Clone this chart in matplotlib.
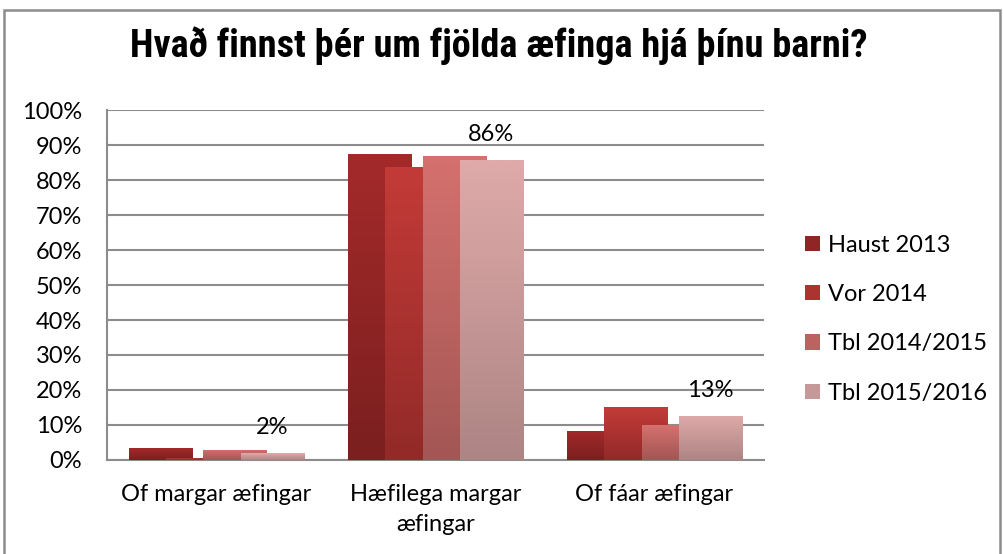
import numpy as np
import matplotlib
matplotlib.use("Agg")
import matplotlib.pyplot as plt
from matplotlib import font_manager as fm
from matplotlib.colors import LinearSegmentedColormap
from matplotlib.patches import Rectangle, Patch

categories = ["Of margar æfingar", "Hæfilega margar\næfingar", "Of fáar æfingar"]
series = ["Haust 2013", "Vor 2014", "Tbl 2014/2015", "Tbl 2015/2016"]
haust_2013 = [3.3, 87.4, 8.3]
vor_2014 = [0.7, 83.7, 15.1]
tbl_2014_2015 = [2.9, 86.9, 10.0]
tbl_2015_2016 = [2.0, 85.6, 12.6]
values = [haust_2013, vor_2014, tbl_2014_2015, tbl_2015_2016]
data_labels = ["2%", "86%", "13%"]
yticks = list(range(0, 101, 10))
ytick_labels = [f"{t}%" for t in yticks]
title = "Hvað finnst þér um fjölda æfinga hjá þínu barni?"

top_colors = ["#a42a2a", "#c33b38", "#d5716e", "#dfaaa9"]
bot_colors = ["#7b1f1f", "#922a28", "#a35654", "#ad8584"]
mid_colors = ["#8f2525", "#ab3330", "#bc6361", "#c69897"]

names = {f.name for f in fm.fontManager.ttflist}
body_font = "Lato" if "Lato" in names else "DejaVu Sans"
title_family = "DejaVu Sans"
title_stretch = "condensed"
for cand in ["Liberation Sans Narrow", "DejaVu Sans Condensed", "Roboto Condensed", "Open Sans Condensed"]:
    if cand in names:
        title_family = cand
        break

plt.rcParams["font.family"] = [body_font, "DejaVu Sans"]
FS = 17

fig = plt.figure(figsize=(10.04, 5.54), dpi=100)
ax = fig.add_axes([0.1066, 0.1697, 0.6544, 0.6317])

x = np.arange(len(categories))
step = 0.169
width = 0.288
offsets = [(-1.5 + i) * step for i in range(4)]

for i, vals in enumerate(values):
    cmap = LinearSegmentedColormap.from_list(f"g{i}", [bot_colors[i], top_colors[i]])
    bars = ax.bar(x + offsets[i], vals, width, color=mid_colors[i], zorder=3 + i,
                  linewidth=0)
    for b in bars:
        x0, w, h = b.get_x(), b.get_width(), b.get_height()
        grad = np.linspace(0, 1, 256).reshape(-1, 1)
        im = ax.imshow(grad, extent=[x0, x0 + w, 0, h], origin="lower", aspect="auto",
                       cmap=cmap, zorder=3 + i + 0.5)
        im.set_clip_path(b)

for j, lab in enumerate(data_labels):
    ax.annotate(lab, (x[j] + offsets[3], values[3][j]), xytext=(0, 11),
                textcoords="offset points", ha="center", va="bottom", fontsize=FS)

ax.set_xlim(-0.5, 2.5)
ax.set_ylim(0, 100)
ax.set_yticks(yticks)
ax.set_yticklabels(ytick_labels, fontsize=FS)
ax.set_xticks(x)
ax.set_xticklabels(categories, fontsize=FS, linespacing=1.5, va="top")
ax.tick_params(axis="y", length=0, pad=18)
ax.tick_params(axis="x", length=0, pad=17.5)
ax.grid(axis="y", color="#8c8c8c", linewidth=1.5, zorder=0)
ax.set_axisbelow(True)
for s in ["top", "right"]:
    ax.spines[s].set_visible(False)
ax.spines["left"].set_color("#8c8c8c")
ax.spines["left"].set_linewidth(1.5)
ax.spines["bottom"].set_color("#8c8c8c")
ax.spines["bottom"].set_linewidth(1.5)

handles = [Patch(facecolor=mid_colors[i], edgecolor="none") for i in range(4)]
leg = fig.legend(handles, series, loc="center left", bbox_to_anchor=(0.802, 0.424),
                 frameon=False, fontsize=FS, handlelength=0.62, handleheight=0.62,
                 handletextpad=0.35, labelspacing=1.2, borderpad=0, borderaxespad=0)

fig.text(0.497, 0.917, title, ha="center", va="center", fontsize=27.5, fontweight="bold",
         family=title_family, stretch=title_stretch)

border = Rectangle((0.004, -0.05), 0.992, 1.032, transform=fig.transFigure, fill=False,
                   edgecolor="#8c8c8c", linewidth=1.8)
fig.patches.append(border)

fig.savefig("out.png", dpi=100)
